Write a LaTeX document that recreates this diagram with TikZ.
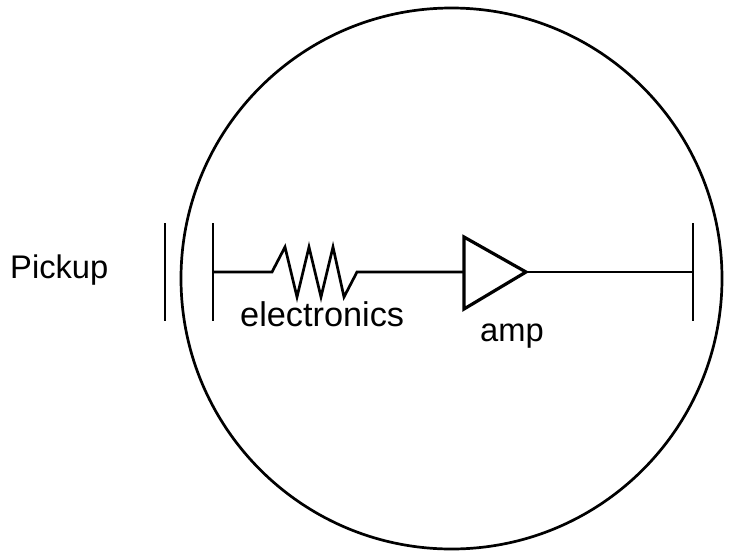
\documentclass[tikz,border=0pt]{standalone}
\usepackage{fontspec}
\setmainfont{Liberation Sans}
\tikzset{
  wire/.style={line width=2.7pt,line join=miter,black},
  label/.style={inner sep=0pt,anchor=base west,font=\fontsize{32.7}{36}\selectfont,text=black}
}
\begin{document}
\begin{tikzpicture}[x=1pt,y=-1pt]
\useasboundingbox (0,0) rectangle (737,550);
\node[draw,circle,wire,minimum size=541pt,inner sep=0pt] (body) at (451.5,278.5) {};
\coordinate (p1t) at (165,223); \coordinate (p1b) at (165,321);
\coordinate (p2t) at (213,223); \coordinate (p2b) at (213,321);
\coordinate (p3t) at (693,223); \coordinate (p3b) at (693,321);
\coordinate (p2m) at (213,272); \coordinate (p3m) at (693,272);
\coordinate (rin) at (272,272); \coordinate (rout) at (357,272);
\coordinate (ain) at (464,272); \coordinate (aout) at (526,272);
\draw[wire] (p1t) -- (p1b);
\draw[wire] (p2t) -- (p2b);
\draw[wire] (p3t) -- (p3b);
\draw[wire] (p2m) -- (rin) -- (285,247) -- (297,297) -- (309,247) -- (321,297) -- (333,247) -- (344,297) -- (rout) -- (ain);
\draw[wire,line width=3.2pt] (464,237) -- (aout) -- (464,309) -- cycle;
\draw[wire] (aout) -- (p3m);
\node[label] (pickup) at (10,278) {Pickup};
\node[label,font=\fontsize{34.3}{36}\selectfont] (electronics) at (240,326) {electronics};
\node[label] (amp) at (480,341) {amp};
\end{tikzpicture}
\end{document}
